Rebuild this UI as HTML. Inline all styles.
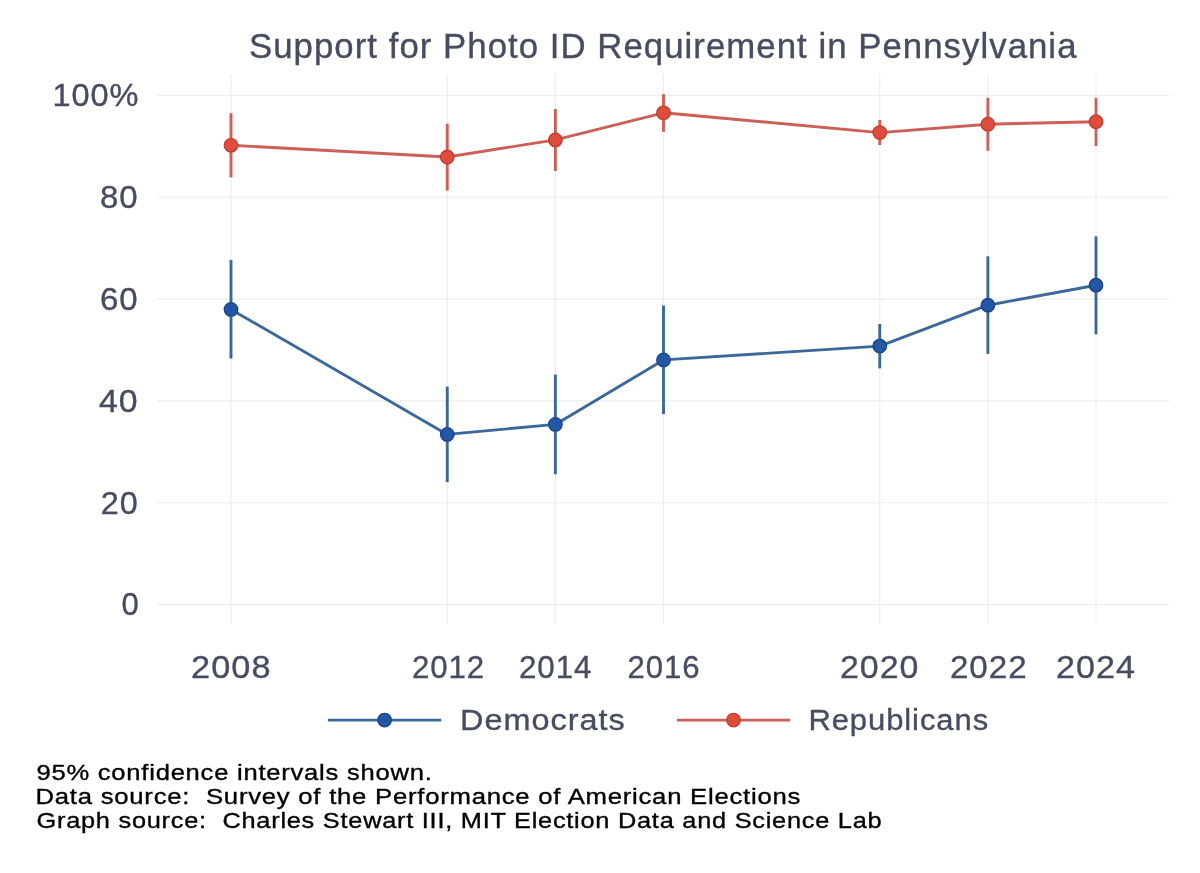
<!DOCTYPE html><html><head><meta charset="utf-8"><style>html,body{margin:0;padding:0;background:#fff;}svg{display:block;will-change:transform;}text{font-family:"Liberation Sans",sans-serif;}</style></head><body>
<svg width="1200" height="873" viewBox="0 0 1200 873">
<rect width="1200" height="873" fill="#fff"/>
<line x1="157" y1="604.50" x2="1169.6" y2="604.50" stroke="#ededed" stroke-width="1.1"/>
<line x1="157" y1="502.70" x2="1169.6" y2="502.70" stroke="#ededed" stroke-width="1.1"/>
<line x1="157" y1="400.90" x2="1169.6" y2="400.90" stroke="#ededed" stroke-width="1.1"/>
<line x1="157" y1="299.10" x2="1169.6" y2="299.10" stroke="#ededed" stroke-width="1.1"/>
<line x1="157" y1="197.30" x2="1169.6" y2="197.30" stroke="#ededed" stroke-width="1.1"/>
<line x1="157" y1="95.50" x2="1169.6" y2="95.50" stroke="#ededed" stroke-width="1.1"/>
<line x1="231.00" y1="74" x2="231.00" y2="624" stroke="#ededed" stroke-width="1.1"/>
<line x1="447.25" y1="74" x2="447.25" y2="624" stroke="#ededed" stroke-width="1.1"/>
<line x1="555.38" y1="74" x2="555.38" y2="624" stroke="#ededed" stroke-width="1.1"/>
<line x1="663.50" y1="74" x2="663.50" y2="624" stroke="#ededed" stroke-width="1.1"/>
<line x1="879.75" y1="74" x2="879.75" y2="624" stroke="#ededed" stroke-width="1.1"/>
<line x1="987.88" y1="74" x2="987.88" y2="624" stroke="#ededed" stroke-width="1.1"/>
<line x1="1096.00" y1="74" x2="1096.00" y2="624" stroke="#ededed" stroke-width="1.1"/>
<line x1="231.00" y1="113.20" x2="231.00" y2="177.40" stroke="#cc5f57" stroke-width="2.9"/>
<line x1="447.25" y1="123.70" x2="447.25" y2="190.60" stroke="#cc5f57" stroke-width="2.9"/>
<line x1="555.38" y1="109.00" x2="555.38" y2="171.00" stroke="#cc5f57" stroke-width="2.9"/>
<line x1="663.50" y1="94.20" x2="663.50" y2="131.80" stroke="#cc5f57" stroke-width="2.9"/>
<line x1="879.75" y1="119.90" x2="879.75" y2="145.00" stroke="#cc5f57" stroke-width="2.9"/>
<line x1="987.88" y1="97.80" x2="987.88" y2="150.80" stroke="#cc5f57" stroke-width="2.9"/>
<line x1="1096.00" y1="97.80" x2="1096.00" y2="146.00" stroke="#cc5f57" stroke-width="2.9"/>
<polyline points="231.00,145.30 447.25,157.00 555.38,139.90 663.50,112.80 879.75,132.60 987.88,124.20 1096.00,121.70" fill="none" stroke="#cc5f57" stroke-width="2.9" stroke-linejoin="round"/>
<circle cx="231.00" cy="145.30" r="6.75" fill="#de4d3c" stroke="#c23c2f" stroke-width="1.3"/>
<circle cx="447.25" cy="157.00" r="6.75" fill="#de4d3c" stroke="#c23c2f" stroke-width="1.3"/>
<circle cx="555.38" cy="139.90" r="6.75" fill="#de4d3c" stroke="#c23c2f" stroke-width="1.3"/>
<circle cx="663.50" cy="112.80" r="6.75" fill="#de4d3c" stroke="#c23c2f" stroke-width="1.3"/>
<circle cx="879.75" cy="132.60" r="6.75" fill="#de4d3c" stroke="#c23c2f" stroke-width="1.3"/>
<circle cx="987.88" cy="124.20" r="6.75" fill="#de4d3c" stroke="#c23c2f" stroke-width="1.3"/>
<circle cx="1096.00" cy="121.70" r="6.75" fill="#de4d3c" stroke="#c23c2f" stroke-width="1.3"/>
<line x1="231.00" y1="259.90" x2="231.00" y2="358.60" stroke="#3a6899" stroke-width="2.9"/>
<line x1="447.25" y1="386.70" x2="447.25" y2="482.20" stroke="#3a6899" stroke-width="2.9"/>
<line x1="555.38" y1="374.60" x2="555.38" y2="474.30" stroke="#3a6899" stroke-width="2.9"/>
<line x1="663.50" y1="305.40" x2="663.50" y2="414.10" stroke="#3a6899" stroke-width="2.9"/>
<line x1="879.75" y1="324.00" x2="879.75" y2="368.40" stroke="#3a6899" stroke-width="2.9"/>
<line x1="987.88" y1="256.30" x2="987.88" y2="353.90" stroke="#3a6899" stroke-width="2.9"/>
<line x1="1096.00" y1="236.30" x2="1096.00" y2="334.30" stroke="#3a6899" stroke-width="2.9"/>
<polyline points="231.00,309.40 447.25,434.40 555.38,424.40 663.50,359.90 879.75,346.10 987.88,305.20 1096.00,285.20" fill="none" stroke="#3a6899" stroke-width="2.9" stroke-linejoin="round"/>
<circle cx="231.00" cy="309.40" r="6.75" fill="#2157a5" stroke="#1a4585" stroke-width="1.3"/>
<circle cx="447.25" cy="434.40" r="6.75" fill="#2157a5" stroke="#1a4585" stroke-width="1.3"/>
<circle cx="555.38" cy="424.40" r="6.75" fill="#2157a5" stroke="#1a4585" stroke-width="1.3"/>
<circle cx="663.50" cy="359.90" r="6.75" fill="#2157a5" stroke="#1a4585" stroke-width="1.3"/>
<circle cx="879.75" cy="346.10" r="6.75" fill="#2157a5" stroke="#1a4585" stroke-width="1.3"/>
<circle cx="987.88" cy="305.20" r="6.75" fill="#2157a5" stroke="#1a4585" stroke-width="1.3"/>
<circle cx="1096.00" cy="285.20" r="6.75" fill="#2157a5" stroke="#1a4585" stroke-width="1.3"/>
<line x1="327.9" y1="720.1" x2="441.3" y2="720.1" stroke="#3a6899" stroke-width="2.9"/>
<circle cx="384.6" cy="720.1" r="6.75" fill="#2157a5" stroke="#1a4585" stroke-width="1.3"/>
<line x1="676.9" y1="720.1" x2="790.2" y2="720.1" stroke="#cc5f57" stroke-width="2.9"/>
<circle cx="733.5" cy="720.1" r="6.75" fill="#de4d3c" stroke="#c23c2f" stroke-width="1.3"/>
<text x="249.00" y="58" font-size="34.2" letter-spacing="1.01" fill="#474c60" stroke="#474c60" stroke-width="0.35" textLength="828.50" lengthAdjust="spacingAndGlyphs">Support for Photo ID Requirement in Pennsylvania</text>
<text x="52.40" y="106.2" font-size="30.6" letter-spacing="0.92" fill="#474c60" stroke="#474c60" stroke-width="0.35" textLength="87.10" lengthAdjust="spacingAndGlyphs">100%</text>
<text x="100.00" y="208.3" font-size="30.6" letter-spacing="0.92" fill="#474c60" stroke="#474c60" stroke-width="0.35" textLength="38.70" lengthAdjust="spacingAndGlyphs">80</text>
<text x="100.00" y="310.0" font-size="30.6" letter-spacing="0.92" fill="#474c60" stroke="#474c60" stroke-width="0.35" textLength="38.70" lengthAdjust="spacingAndGlyphs">60</text>
<text x="99.00" y="411.8" font-size="30.6" letter-spacing="0.92" fill="#474c60" stroke="#474c60" stroke-width="0.35" textLength="39.70" lengthAdjust="spacingAndGlyphs">40</text>
<text x="100.70" y="513.6" font-size="30.6" letter-spacing="0.92" fill="#474c60" stroke="#474c60" stroke-width="0.35" textLength="38.00" lengthAdjust="spacingAndGlyphs">20</text>
<text x="121.40" y="615.0" font-size="30.6" letter-spacing="0.92" fill="#474c60" stroke="#474c60" stroke-width="0.35" textLength="18.20" lengthAdjust="spacingAndGlyphs">0</text>
<text x="191.10" y="678.3" font-size="31" letter-spacing="0.93" fill="#474c60" stroke="#474c60" stroke-width="0.35" textLength="80.50" lengthAdjust="spacingAndGlyphs">2008</text>
<text x="411.90" y="678.3" font-size="31" letter-spacing="0.93" fill="#474c60" stroke="#474c60" stroke-width="0.35" textLength="73.10" lengthAdjust="spacingAndGlyphs">2012</text>
<text x="518.90" y="678.3" font-size="31" letter-spacing="0.93" fill="#474c60" stroke="#474c60" stroke-width="0.35" textLength="73.50" lengthAdjust="spacingAndGlyphs">2014</text>
<text x="627.60" y="678.3" font-size="31" letter-spacing="0.93" fill="#474c60" stroke="#474c60" stroke-width="0.35" textLength="73.00" lengthAdjust="spacingAndGlyphs">2016</text>
<text x="840.00" y="678.3" font-size="31" letter-spacing="0.93" fill="#474c60" stroke="#474c60" stroke-width="0.35" textLength="79.50" lengthAdjust="spacingAndGlyphs">2020</text>
<text x="949.90" y="678.3" font-size="31" letter-spacing="0.93" fill="#474c60" stroke="#474c60" stroke-width="0.35" textLength="77.70" lengthAdjust="spacingAndGlyphs">2022</text>
<text x="1056.00" y="678.3" font-size="31" letter-spacing="0.93" fill="#474c60" stroke="#474c60" stroke-width="0.35" textLength="80.00" lengthAdjust="spacingAndGlyphs">2024</text>
<text x="460.10" y="730.4" font-size="30.2" letter-spacing="0.91" fill="#474c60" stroke="#474c60" stroke-width="0.35" textLength="165.50" lengthAdjust="spacingAndGlyphs">Democrats</text>
<text x="808.40" y="730.4" font-size="30.2" letter-spacing="0.91" fill="#474c60" stroke="#474c60" stroke-width="0.35" textLength="180.70" lengthAdjust="spacingAndGlyphs">Republicans</text>
<text x="36.50" y="780" font-size="22.6" letter-spacing="0.67" fill="#000" stroke="#000" stroke-width="0.35" textLength="396.00" lengthAdjust="spacingAndGlyphs">95% confidence intervals shown.</text>
<text x="35.50" y="804.2" font-size="22.6" letter-spacing="0.67" fill="#000" stroke="#000" stroke-width="0.35" textLength="765.60" lengthAdjust="spacingAndGlyphs">Data source:&#160; Survey of the Performance of American Elections</text>
<text x="36.50" y="828.3" font-size="22.6" letter-spacing="0.67" fill="#000" stroke="#000" stroke-width="0.35" textLength="845.90" lengthAdjust="spacingAndGlyphs">Graph source:&#160; Charles Stewart III, MIT Election Data and Science Lab</text>
</svg></body></html>
